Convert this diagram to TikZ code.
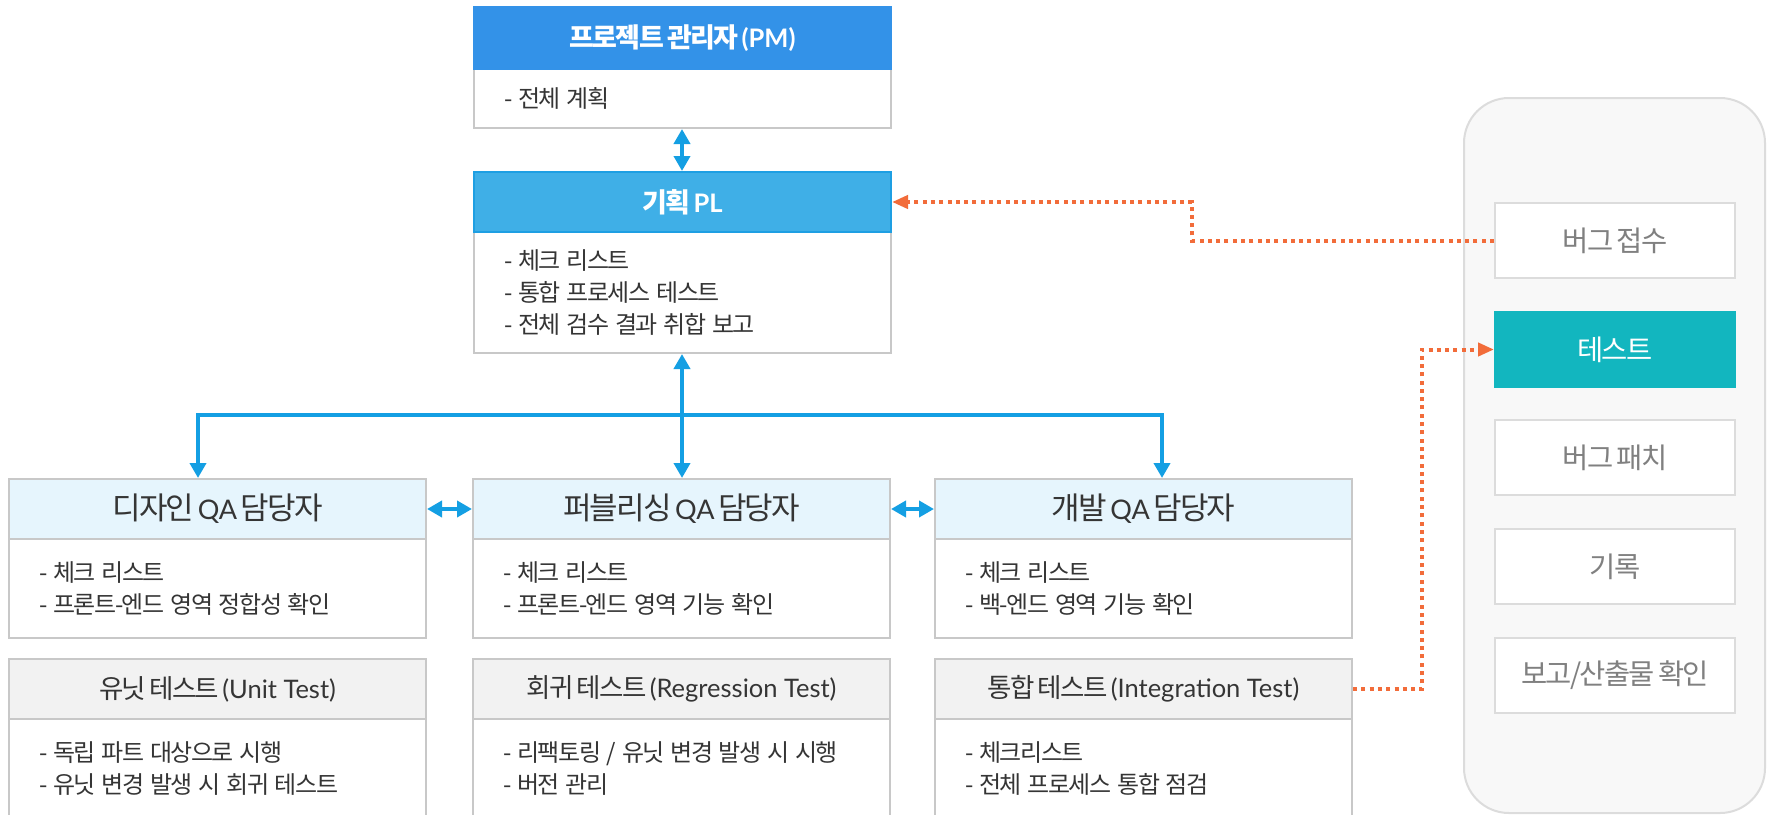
\documentclass[tikz,border=0pt]{standalone}
\usepackage{fontspec}
\setmainfont{Noto Sans CJK KR}[LetterSpace=-6,WordSpace=0.7]
\newfontfamily\lato{Lato}
\usetikzlibrary{arrows.meta}
\definecolor{pmblue}{HTML}{3392E8}
\definecolor{plblue}{HTML}{3FAFE7}
\definecolor{plline}{HTML}{1E9FE3}
\definecolor{qafill}{HTML}{E6F5FD}
\definecolor{tfill}{HTML}{F2F2F2}
\definecolor{bgray}{HTML}{C8C8C8}
\definecolor{txt}{HTML}{353535}
\definecolor{arrblue}{HTML}{149FE3}
\definecolor{orng}{HTML}{F26C3A}
\definecolor{panel}{HTML}{F8F8F8}
\definecolor{panelb}{HTML}{DCDCDC}
\definecolor{tealbox}{HTML}{12B6BF}
\definecolor{rtxt}{HTML}{808080}
\tikzset{
  box/.style={rectangle, line width=2pt, inner sep=0pt, minimum width=417pt, anchor=north west},
  hdr/.style={box, draw=bgray, minimum height=60pt, align=center, text=txt},
  bigh/.style={box, minimum height=60pt, align=center, text=white, font=\bfseries\fontsize{27}{30}\selectfont},
  qah/.style={hdr, fill=qafill, font=\fontsize{31}{32}\selectfont},
  testh/.style={hdr, fill=tfill, font=\fontsize{26.5}{30}\selectfont},
  bodybox/.style={box, draw=bgray, fill=white, text width=357pt, inner xsep=30pt, align=left, text=txt, font=\fontsize{24}{32}\selectfont, execute at begin node={\spaceskip=0.24em\relax}},
  rbox/.style={rectangle, line width=2pt, draw=panelb, fill=white, minimum width=240pt, minimum height=75pt, anchor=north west, inner sep=0pt, text=rtxt, font=\fontsize{28.5}{30}\selectfont},
  bl/.style={draw=arrblue, line width=4pt, {Triangle[length=15pt,width=16pt]}-{Triangle[length=15pt,width=16pt]}},
  ol/.style={draw=orng, line width=4pt, dash pattern=on 4pt off 4.3pt, -{Triangle[length=16pt,width=13pt]}}
}
\begin{document}
\begin{tikzpicture}[x=1pt,y=-1pt]
\useasboundingbox (0,0) rectangle (1771,814);
\fill[white] (0,0) rectangle (1771,814);
\clip (0,0) rectangle (1771,814);

% PM
\node[bodybox, minimum height=59pt] (pmb) at (473,68) {- 전체 계획};
\node[bigh, fill=pmblue, draw=pmblue, minimum height=62pt] (pmh) at (473,6) {프로젝트 관리자 {\lato\bfseries\fontsize{25.5}{30}\selectfont (PM)}};

% PL
\node[bodybox, minimum height=121pt] (plb) at (473,231) {- 체크 리스트\\- 통합 프로세스 테스트\\- 전체 검수 결과 취합 보고};
\node[bigh, fill=plblue, draw=plline] (plh) at (473,171) {기획 {\lato\bfseries\fontsize{25.5}{30}\selectfont PL}};

% QA row
\node[bodybox, minimum height=99pt] (desb) at (8,538) {- 체크 리스트\\- 프론트-엔드 영역 정합성 확인};
\node[qah] (desh) at (8,478) {디자인 {\lato\fontsize{27}{32}\selectfont QA} 담당자};
\node[bodybox, minimum height=99pt] (pubb) at (472,538) {- 체크 리스트\\- 프론트-엔드 영역 기능 확인};
\node[qah] (pubh) at (472,478) {퍼블리싱 {\lato\fontsize{27}{32}\selectfont QA} 담당자};
\node[bodybox, minimum height=99pt] (devb) at (934,538) {- 체크 리스트\\- 백-엔드 영역 기능 확인};
\node[qah] (devh) at (934,478) {개발 {\lato\fontsize{27}{32}\selectfont QA} 담당자};

% Test row
\node[bodybox, minimum height=99pt] (unitb) at (8,718) {- 독립 파트 대상으로 시행\\- 유닛 변경 발생 시 회귀 테스트};
\node[testh] (unith) at (8,658) {유닛 테스트 {\lato\fontsize{25.5}{30}\selectfont (Unit Test)}};
\node[bodybox, minimum height=99pt] (regb) at (472,718) {- 리팩토링 / 유닛 변경 발생 시 시행\\- 버전 관리};
\node[testh] (regh) at (472,658) {회귀 테스트 {\lato\fontsize{25.5}{30}\selectfont (Regression Test)}};
\node[bodybox, minimum height=99pt] (intb) at (934,718) {- 체크리스트\\- 전체 프로세스 통합 점검};
\node[testh] (inth) at (934,658) {통합 테스트 {\lato\fontsize{25.5}{30}\selectfont (Integration Test)}};

% right panel
\node[rectangle, draw=panelb, fill=panel, line width=2pt, rounded corners=45pt, minimum width=301pt, minimum height=715pt, anchor=north west, inner sep=0pt] (panel) at (1463,97) {};
\node[rbox] (bug) at (1494,202) {버그 접수};
\node[rbox, fill=tealbox, draw=tealbox, text=white] (test) at (1494,311) {테스트};
\node[rbox] (patch) at (1494,419) {버그 패치};
\node[rbox] (rec) at (1494,528) {기록};
\node[rbox] (rep) at (1494,637) {보고/산출물 확인};

% blue connectors
\coordinate (tl) at (198,415);
\coordinate (tr) at (1162,415);
\coordinate (tc) at (682,415);
\draw[bl] (tc |- pmb.south) -- (tc |- plh.north);
\draw[bl] (tc |- plb.south) -- (tc |- pubh.north);
\draw[bl, line join=miter] (tl |- desh.north) -- (tl) -- (tr) -- (tr |- devh.north);
\draw[bl] (desh.east) -- (pubh.west);
\draw[bl] (pubh.east) -- (devh.west);

% orange connectors
\coordinate (o1) at (1192,0);
\coordinate (o2) at (1422,0);
\draw[ol] (bug.west) -- (bug.west -| o1) -- (o1 |- plh.east) -- (plh.east);
\draw[ol] (inth.east) -- (inth.east -| o2) -- (o2 |- test.west) -- (test.west);
\end{tikzpicture}
\end{document}
